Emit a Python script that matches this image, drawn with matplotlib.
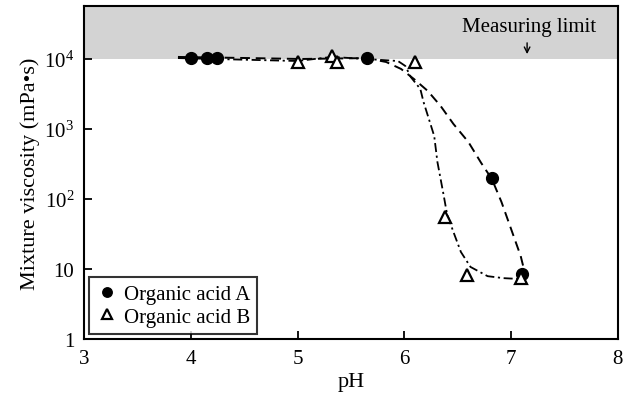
import matplotlib
matplotlib.use("Agg")
import matplotlib.pyplot as plt

plt.rcParams['font.family'] = ['Liberation Serif', 'DejaVu Serif']
plt.rcParams['mathtext.fontset'] = 'stix'

# measured points
ph_a = [4.0, 4.15, 4.25, 5.65, 6.82, 7.1]
visc_a = [10500, 10500, 10500, 10500, 200, 8.5]
ph_b = [5.0, 5.32, 5.37, 6.1, 6.38, 6.59, 7.09]
visc_b = [9000, 11000, 9000, 9000, 56, 8.3, 7.5]

# trend curves
curve_a_ph = [3.88, 4.56, 5.03, 5.64, 5.83, 5.97, 6.09, 6.22, 6.34, 6.46,
              6.60, 6.72, 6.82, 6.91, 7.00, 7.09, 7.12, 7.08]
curve_a_visc = [10700, 10300, 10000, 10300, 9060, 7200, 5180, 3490, 2130, 1180,
                652, 327, 193, 90.6, 37.3, 15.3, 10, 8.2]
curve_b_ph = [3.88, 5.00, 5.32, 5.64, 5.94, 6.01, 6.06, 6.15, 6.18, 6.23,
              6.28, 6.31, 6.37, 6.40, 6.46, 6.53, 6.62, 6.78, 6.93, 7.08]
curve_b_visc = [10300, 9360, 10700, 10000, 9360, 7940, 5530, 3730, 2430, 1390,
                794, 338, 110, 61, 33.8, 17.5, 10.7, 7.9, 7.4, 7.2]

y_ticks = [1, 10, 100, 1000, 10000]
y_labels = ['1', '10', r'$\mathregular{10^2}$', r'$\mathregular{10^3}$', r'$\mathregular{10^4}$']
limit = 10000

fig = plt.figure(figsize=(6.35, 4.02), dpi=100)
ax = fig.add_axes([0.1323, 0.1542, 0.8407, 0.8284])
ymax = 10 ** 4.757
ax.axhspan(limit, ymax, color='#d3d3d3', lw=0, zorder=0)

ax.plot(curve_a_ph, curve_a_visc, color='black', lw=1.4, ls=(0, (5, 3)), zorder=2)
ax.plot(curve_b_ph, curve_b_visc, color='black', lw=1.3, ls=(0, (5, 2, 1.2, 2)), zorder=2)
ax.plot(ph_a, visc_a, 'o', color='black', ms=8.5, ls='none', label='Organic acid A', zorder=3)
ax.plot(ph_b, visc_b, '^', mfc='white', mec='black', mew=1.6, ms=8.5, ls='none',
        label='Organic acid B', zorder=3)

ax.set_yscale('log')
ax.set_xlim(3, 8)
ax.set_ylim(1, ymax)
ax.set_xticks([3, 4, 5, 6, 7, 8])
ax.set_yticks(y_ticks)
ax.set_yticklabels(y_labels)
ax.minorticks_off()
ax.tick_params(direction='in', length=6, width=1.3, labelsize=15, pad=7)
for s in ax.spines.values():
    s.set_linewidth(1.5)

ax.set_xlabel('pH', fontsize=16, labelpad=3)
ax.set_ylabel('Mixture viscosity (mPa\u2022s)', fontsize=16, labelpad=3)

ax.text(7.17, 10 ** 4.47, 'Measuring limit', fontsize=15, ha='center', va='center')
ax.annotate('', xy=(7.15, 10 ** 4.03), xytext=(7.15, 10 ** 4.27),
            arrowprops=dict(arrowstyle='->', color='black', lw=1.0))

leg = ax.legend(loc='lower left', fontsize=15, borderaxespad=0.25,
                frameon=True, fancybox=False, edgecolor='black', handletextpad=0.3,
                borderpad=0.35, labelspacing=0.15, handlelength=1.0, markerscale=0.8)
leg.get_frame().set_linewidth(1.5)

fig.savefig('out.png', dpi=100)
